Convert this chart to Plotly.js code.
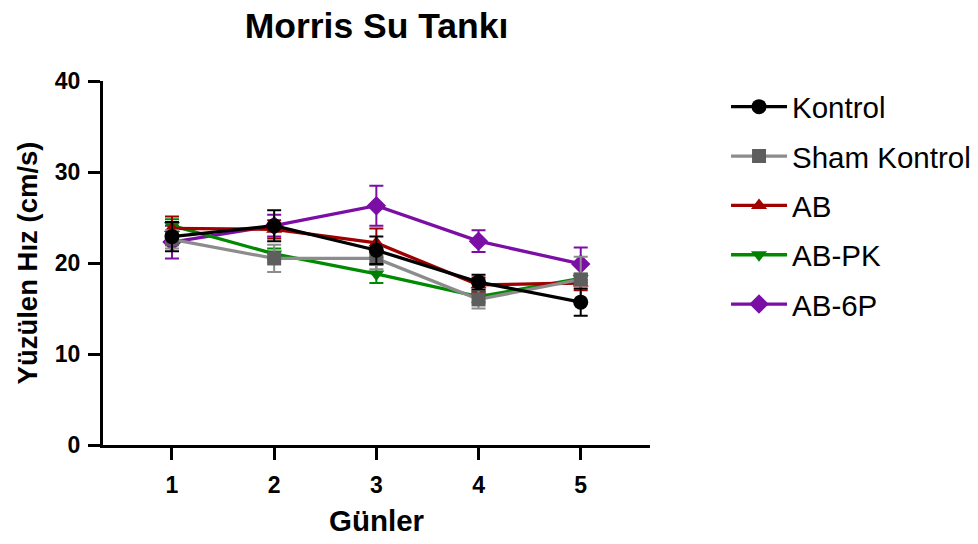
<!DOCTYPE html>
<html>
<head>
<meta charset="utf-8">
<script src="https://cdn.plot.ly/plotly-3.0.1.min.js"></script>
<style>html,body{margin:0;padding:0;background:#fff;}#chart{width:978px;height:544px;}</style>
</head>
<body>
<div id="chart"></div>
<script>
const days = [1, 2, 3, 4, 5];
const seriesNames = ["Kontrol", "Sham Kontrol", "AB", "AB-PK", "AB-6P"];
const kontrol = [22.9, 24.1, 21.4, 17.9, 15.7];
const kontrolErr = [1.6, 1.7, 1.5, 0.8, 1.5];
const sham = [22.6, 20.5, 20.5, 16.0, 18.2];
const shamErr = [1.0, 1.5, 1.2, 1.0, 2.5];
const ab = [23.8, 23.7, 22.2, 17.6, 17.8];
const abErr = [1.3, 1.0, 1.6, 0.8, 0.8];
const abpk = [24.1, 21.0, 18.8, 16.3, 18.3];
const abpkErr = [0.7, 0.6, 1.0, 0.6, 0.5];
const ab6p = [22.3, 24.1, 26.3, 22.4, 19.9];
const ab6pErr = [1.8, 1.2, 2.2, 1.2, 1.8];
const yTicks = [0, 10, 20, 30, 40];

const styles = [
  {line: "#000000", marker: "#000000", symbol: "circle", size: 15},
  {line: "#8c8c8c", marker: "#5e5e5e", symbol: "square", size: 14},
  {line: "#a00000", marker: "#a00000", symbol: "triangle-up", size: 14},
  {line: "#008a00", marker: "#008000", symbol: "triangle-down", size: 14},
  {line: "#7b0fa5", marker: "#7b0fa5", symbol: "diamond", size: 15}
];
const values = [kontrol, sham, ab, abpk, ab6p];
const errs = [kontrolErr, shamErr, abErr, abpkErr, ab6pErr];

const traces = [];
for (let i = values.length - 1; i >= 0; i--) {
  const s = styles[i];
  traces.push({
    type: "scatter", mode: "lines+markers",
    x: days, y: values[i], name: seriesNames[i], legendgroup: "g" + i, legendrank: i + 1,
    line: {color: s.line, width: 3.3},
    marker: {color: s.marker, symbol: s.symbol, size: s.size, line: {width: 0}},
    error_y: {type: "data", array: errs[i], visible: true, color: s.line, thickness: 2, width: 7}
  });
}

const layout = {
  width: 978, height: 544,
  paper_bgcolor: "#ffffff", plot_bgcolor: "#ffffff",
  margin: {l: 103, r: 328, t: 81, b: 99, pad: 0, autoexpand: false},
  font: {family: "Arial, 'Liberation Sans', sans-serif", color: "#000"},
  title: {text: "<b>Morris Su Tankı</b>", font: {size: 35.5, color: "#000"},
          x: 0.5, xref: "paper", xanchor: "center", y: 0.953, yref: "container", yanchor: "middle"},
  xaxis: {
    range: [0.325, 5.678], tickvals: days, ticktext: days.map(d => "<b>" + d + "</b>"),
    showgrid: false, zeroline: false, showline: true, linecolor: "#000", linewidth: 3,
    ticks: "outside", ticklen: 12, tickwidth: 3, tickcolor: "#000",
    tickfont: {size: 23, color: "#000"}, ticklabelstandoff: 5,
    title: {text: "<b>Günler</b>", font: {size: 29.5, color: "#000"}, standoff: 14}
  },
  yaxis: {
    range: [0, 40], tickvals: yTicks, ticktext: yTicks.map(v => "<b>" + v + "</b>"),
    showgrid: false, zeroline: false, showline: true, linecolor: "#000", linewidth: 3,
    ticks: "outside", ticklen: 12, tickwidth: 3, tickcolor: "#000",
    tickfont: {size: 23, color: "#000"}, ticklabelstandoff: 3,
    title: {text: "<b>Yüzülen Hız (cm/s)</b>", font: {size: 27.5, color: "#000"}, standoff: 10}
  },
  showlegend: true,
  legend: {
    x: 1.139, xanchor: "left", y: 1.0, yanchor: "top",
    traceorder: "grouped", tracegroupgap: 8,
    font: {size: 29.5, color: "#000"}, itemwidth: 56, bgcolor: "rgba(0,0,0,0)"
  }
};

Plotly.newPlot("chart", traces, layout, {displayModeBar: false, staticPlot: true});
</script>
</body>
</html>
